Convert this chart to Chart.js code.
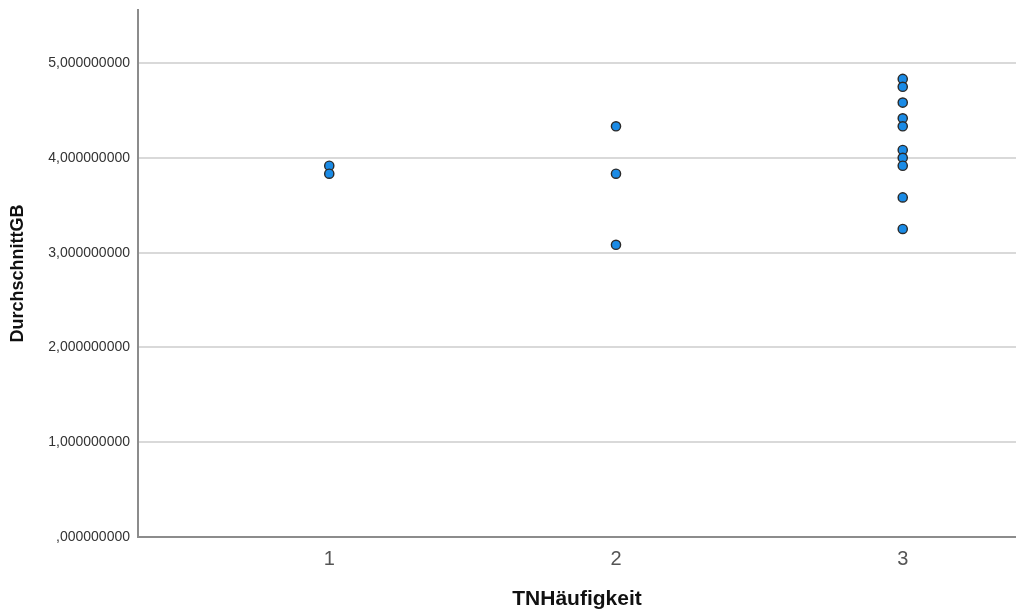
<!DOCTYPE html>
<html lang="de">
<head>
    <meta charset="UTF-8">
    <title>DurchschnittGB nach TNHäufigkeit</title>
    <script src="https://cdn.jsdelivr.net/npm/chart.js"></script>
    <style>
        body { margin: 0; background: #fff; }
        #wrap { width: 1016px; height: 612px; }
    </style>
</head>
<body>
    <div id="wrap"><canvas id="scatterChart" width="1016" height="612"></canvas></div>

    <script>
        // Kategorien der x-Achse und Achsenbeschriftungen
        const xTicks = [1, 2, 3];
        const yTicks = [0, 1, 2, 3, 4, 5];

        // Wertepaare (TNHäufigkeit, DurchschnittGB)
        const tnHaeufigkeit = [1, 1, 2, 2, 2, 3, 3, 3, 3, 3, 3, 3, 3, 3, 3];
        const durchschnittGB = [3.917, 3.833, 4.333, 3.833, 3.083,
                                4.833, 4.750, 4.583, 4.417, 4.333, 4.083, 4.000, 3.917, 3.583, 3.250];

        const points = tnHaeufigkeit.map((x, i) => ({ x: x, y: durchschnittGB[i] }));

        const fontFamily = "'Liberation Sans', Arial, sans-serif";

        // keine Extra-Abstaende fuer Randbeschriftungen
        const noEdgePadding = scale => {
            scale.paddingTop = 0;
            scale.paddingBottom = 0;
            scale.paddingLeft = 0;
            scale.paddingRight = 0;
        };

        const ctx = document.getElementById('scatterChart').getContext('2d');

        const scatterChart = new Chart(ctx, {
            type: 'scatter',
            data: {
                datasets: [{
                    data: points,
                    backgroundColor: '#1a8be6',
                    borderColor: '#2a2a2a',
                    borderWidth: 1.4,
                    pointRadius: 4.6,
                    pointHoverRadius: 4.6
                }]
            },
            options: {
                responsive: false,
                animation: false,
                layout: { autoPadding: false, padding: { top: 10, right: 0, left: 0, bottom: 0 } },
                plugins: {
                    legend: { display: false },
                    tooltip: { enabled: false }
                },
                scales: {
                    x: {
                        type: 'linear',
                        min: 0.333,
                        max: 3.395,
                        afterBuildTicks: scale => { scale.ticks = xTicks.map(v => ({ value: v })); },
                        afterFit: scale => { scale.height = 75; noEdgePadding(scale); },
                        grid: { display: false, drawTicks: false },
                        border: { display: true, color: '#8c8c8c', width: 2 },
                        ticks: {
                            padding: 10,
                            color: '#555',
                            font: { family: fontFamily, size: 20 }
                        },
                        title: {
                            display: true,
                            text: 'TNHäufigkeit',
                            color: '#111',
                            padding: { top: 0, bottom: 0 },
                            font: { family: fontFamily, size: 21, weight: 'bold' }
                        }
                    },
                    y: {
                        type: 'linear',
                        min: 0,
                        max: 5.56,
                        afterBuildTicks: scale => { scale.ticks = yTicks.map(v => ({ value: v })); },
                        afterFit: scale => { scale.width = 138; noEdgePadding(scale); },
                        grid: {
                            drawTicks: false,
                            lineWidth: 2,
                            color: c => (c.tick && c.tick.value === 0) ? 'rgba(0,0,0,0)' : '#d9d9d9'
                        },
                        border: { display: true, color: '#8c8c8c', width: 2 },
                        ticks: {
                            padding: 8,
                            color: '#333',
                            font: { family: fontFamily, size: 14 },
                            callback: v => v === 0 ? ',000000000' : v.toFixed(9).replace('.', ',')
                        },
                        title: {
                            display: true,
                            text: 'DurchschnittGB',
                            color: '#111',
                            padding: { top: 7.2, bottom: 0 },
                            font: { family: fontFamily, size: 18, weight: 'bold' }
                        }
                    }
                }
            }
        });
    </script>
</body>
</html>
